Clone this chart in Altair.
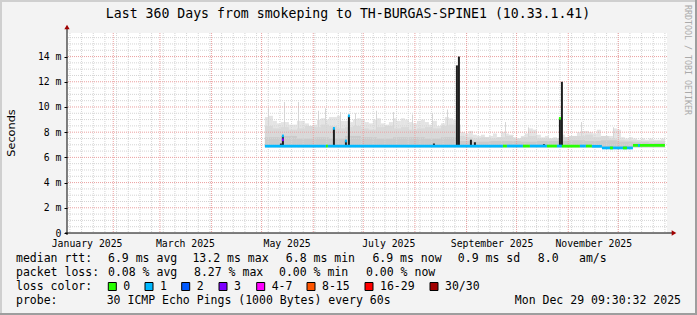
import altair as alt
import pandas as pd

# ---------------------------------------------------------------- data
title_text = "Last 360 Days from smokeping to TH-BURGAS-SPINE1 (10.33.1.41)"
y_title = "Seconds"
watermark = "RRDTOOL / TOBI OETIKER"

# time is expressed as day of 2025 (0 = 1 Jan 00:00 UTC)
view_days = [3.25, 363.25]
label_days = [15, 74, 135, 196, 258, 319]          # mid-month label anchors
month_start_days = [31, 59, 90, 120, 151, 181, 212, 243, 273, 304, 334]
week_days = list(range(5, 363, 7))                  # Mondays
y_ticks = [0, 2, 4, 6, 8, 10, 12, 14]
y_max = 15.87

# smoke (upper ping envelope) in ms, one value per 2.4 days from day 122
smoke_first_day = 122.0
smoke_step_days = 2.4
smoke_floor = 6.8
smoke_top = [9.2, 9.3, 8.9, 8.7, 8.8, 8.8, 8.6, 8.6, 8.9, 8.9,
             8.7, 8.5, 8.6, 9.0, 9.1, 9.0, 9.2, 9.2, 9.3, 8.9,
             8.9, 8.8, 9.0, 9.1, 9.0, 8.8, 8.7, 9.0, 9.1, 8.7,
             8.6, 8.8, 9.1, 8.9, 9.1, 9.0, 8.8, 8.7, 8.9, 9.0,
             8.8, 8.6, 8.9, 8.5, 8.7, 9.2, 9.1, 9.0, 8.6, 8.0,
             7.9, 8.1, 7.8, 7.7, 7.8, 7.6, 7.7, 7.9, 7.6, 8.0,
             7.9, 7.8, 7.6, 7.5, 7.7, 7.9, 8.3, 8.2, 7.8, 7.6,
             7.7, 7.5, 7.6, 7.5, 7.8, 7.6, 7.5, 7.7, 8.0, 8.1,
             8.1, 8.0, 7.9, 8.2, 7.6, 7.5, 7.7, 8.3, 8.2, 7.6,
             7.5, 7.6, 7.5, 7.4, 7.5, 7.4, 7.5, 7.4, 7.4, 7.5]
# middle band of the smoke, one value per 4.8 days
mid_step_days = 4.8
smoke_mid = [8.5, 8.3, 8.4, 8.2, 8.3, 8.5, 8.4, 8.6, 8.5, 8.3,
             8.4, 8.5, 8.3, 8.2, 8.4, 8.5, 8.3, 8.4, 8.2, 8.3,
             8.4, 8.3, 8.5, 8.6, 7.7, 7.6, 7.5, 7.6, 7.5, 7.6,
             7.7, 7.5, 7.6, 7.7, 7.5, 7.5, 7.5, 7.6, 7.7, 7.7,
             7.8, 7.6, 7.7, 7.5, 7.4, 7.35, 7.35, 7.3, 7.3, 7.3]
# densest part of the smoke, one value per 9.6 days
inner_step_days = 9.6
smoke_inner = [7.6, 7.7, 7.5, 7.6, 7.5, 7.7, 7.6, 7.5, 7.6, 7.6, 7.5, 7.6,
               7.3, 7.25, 7.3, 7.3, 7.25, 7.3, 7.3, 7.35, 7.3, 7.35, 7.25, 7.2, 7.15]
# thin single outliers
needle_day = [123.85, 133.45, 141.85, 153.85, 158.05, 167.05, 176.05, 188.65,
              198.85, 210.25, 222.25, 231.25, 266.05, 279.85, 311.65, 330.85]
needle_top = [9.9, 10.4, 10.4, 9.7, 9.9, 9.6, 9.5, 9.7,
              9.6, 9.4, 9.5, 9.8, 8.8, 8.4, 8.8, 8.4]
# dense dark spikes
spike_day = [131.0, 132.2, 162.8, 170.0, 171.8, 222.8, 236.6, 237.8, 245.0, 247.4, 288.8, 298.4, 299.6]
spike_top = [7.1, 7.7, 8.3, 7.3, 9.3, 7.1, 13.3, 14.0, 7.4, 7.2, 7.05, 9.1, 12.0]

# median rtt segments coloured by lost pings
med_from = [122.0, 158.6, 159.8, 264.8, 267.2, 276.8, 281.0, 291.2, 297.2, 300.2, 311.0, 314.6,
            318.2, 324.2, 342.8, 329.0, 336.8, 345.8, 132.2, 132.2, 162.8, 170.0, 171.8, 298.4]
med_to = [158.6, 159.8, 264.8, 267.2, 276.8, 281.0, 291.2, 297.2, 300.2, 311.0, 314.6, 318.2,
          324.2, 342.8, 362.0, 330.8, 339.2, 347.0, 133.4, 133.4, 164.0, 171.2, 173.0, 299.6]
med_value = [6.9, 6.9, 6.9, 6.9, 6.9, 6.9, 6.9, 6.9, 6.9, 6.9, 6.9, 6.9,
             6.88, 6.75, 6.95, 6.75, 6.75, 6.95, 7.7, 7.4, 8.3, 7.3, 9.3, 9.1]
med_loss = ["1", "0", "1", "0", "1", "0", "1", "0", "1", "0", "1", "0",
            "1", "1", "0", "0", "0", "1", "1", "3", "1", "1", "1", "0"]

loss_labels = ["0", "1", "2", "3", "4-7", "8-15", "16-29", "30/30"]
loss_colors = ["#26ff00", "#00b8ff", "#0059ff", "#7e00ff", "#ff00ff", "#ff5500", "#ff0000", "#a10000"]

rtt_stats = ["6.9 ms avg", "13.2 ms max", "6.8 ms min", "6.9 ms now", "0.9 ms sd", "8.0", "am/s"]
loss_stats = ["0.08 % avg", "8.27 % max", "0.00 % min", "0.00 % now"]
probe_text = "30 ICMP Echo Pings (1000 Bytes) every 60s"
stamp_text = "Mon Dec 29 09:30:32 2025"

# ---------------------------------------------------------------- layout
PW, PH = 600, 200
OX, OY = 67, 33            # plot origin inside the 697x315 canvas
MONO = "DejaVu Sans Mono"
rtt_x = [108, 192.4, 285.8, 372.4, 457.8, 537.8, 579]
loss_x = [108, 194, 279, 366]
swatch_x = [108.3, 145, 181.7, 219, 256.7, 307, 365, 430]
row_y = [258.5, 272.5, 287, 301]

BASE = pd.Timestamp("2025-01-01")


def ms(day):
    return int((BASE + pd.Timedelta(days=float(day))).timestamp() * 1000)


xscale = alt.Scale(type="utc", domain=[ms(view_days[0]), ms(view_days[1])])
yscale = alt.Scale(domain=[0, y_max], nice=False, zero=False)

xaxis = alt.Axis(values=[ms(d) for d in label_days], labelExpr="utcFormat(datum.value, '%B %Y')",
                 labelFont=MONO, labelFontSize=9.8, labelColor="#000000",
                 ticks=False, tickSize=0, domain=False, grid=False, title=None,
                 labelPadding=10.5, labelBaseline="middle", labelFlush=False,
                 labelOverlap=False, labelAlign="center")
yaxis = alt.Axis(values=y_ticks, labelExpr="datum.value == 0 ? '0\u00a0' : datum.value + ' m'",
                 labelFont=MONO, labelFontSize=9.8, labelColor="#000000",
                 ticks=True, tickSize=3, tickColor="#000000", domain=False, grid=False,
                 title=None, labelPadding=3)


def X(field):
    return alt.X(field, type="temporal", scale=xscale, axis=xaxis)


def Y(field):
    return alt.Y(field, type="quantitative", scale=yscale, axis=yaxis)


def bands(first, step, values):
    return pd.DataFrame({
        "t0": [ms(first + i * step) for i in range(len(values))],
        "t1": [ms(first + (i + 1) * step) for i in range(len(values))],
        "lo": [smoke_floor] * len(values),
        "hi": values,
    })


layers = []

# smoke
layers.append(alt.Chart(bands(smoke_first_day, smoke_step_days, smoke_top)).mark_rect(color="#e4e4e4").encode(
    x=X("t0"), x2="t1", y=Y("lo"), y2="hi"))
needle_df = pd.DataFrame({"t0": [ms(d) for d in needle_day], "t1": [ms(d + 0.6) for d in needle_day],
                          "lo": [smoke_floor] * len(needle_day), "hi": needle_top})
layers.append(alt.Chart(needle_df).mark_rect(color="#d6d6d6").encode(
    x=X("t0"), x2="t1", y=Y("lo"), y2="hi"))
layers.append(alt.Chart(bands(smoke_first_day, mid_step_days, smoke_mid)).mark_rect(color="#d9d9d9").encode(
    x=X("t0"), x2="t1", y=Y("lo"), y2="hi"))
layers.append(alt.Chart(bands(smoke_first_day, inner_step_days, smoke_inner)).mark_rect(color="#cbcbcb").encode(
    x=X("t0"), x2="t1", y=Y("lo"), y2="hi"))

# grid
minor_y = [0.5 * k for k in range(1, 32) if k % 4 != 0]
layers.append(alt.Chart(pd.DataFrame({"t": [ms(d) for d in week_days]})).mark_rule(
    color="#d4d4d4", strokeDash=[1, 1], strokeWidth=1).encode(x=X("t")))
layers.append(alt.Chart(pd.DataFrame({"v": minor_y})).mark_rule(
    color="#d4d4d4", strokeDash=[1, 1], strokeWidth=1).encode(y=Y("v")))
layers.append(alt.Chart(pd.DataFrame({"t": [ms(d) for d in month_start_days]})).mark_rule(
    color="#eba0a0", strokeDash=[1, 1], strokeWidth=1).encode(x=X("t")))
layers.append(alt.Chart(pd.DataFrame({"v": [v for v in y_ticks if v > 0]})).mark_rule(
    color="#eba0a0", strokeDash=[1, 1], strokeWidth=1).encode(y=Y("v")))

# dark spikes
spike_df = pd.DataFrame({"t0": [ms(d) for d in spike_day], "t1": [ms(d + 1.2) for d in spike_day],
                         "lo": [6.85] * len(spike_day), "hi": spike_top})
layers.append(alt.Chart(spike_df).mark_rect(color="#1e1e1e").encode(
    x=X("t0"), x2="t1", y=Y("lo"), y2="hi"))

# median
med_df = pd.DataFrame({"t0": [ms(d) for d in med_from], "t1": [ms(d) for d in med_to],
                       "v": med_value, "loss": med_loss})
med_df["lo"] = med_df["v"] - 0.11
med_df["hi"] = med_df["v"] + 0.11
med_df["order"] = range(len(med_df))
layers.append(alt.Chart(med_df).mark_rect().encode(
    x=X("t0"), x2="t1", y=Y("lo"), y2="hi",
    color=alt.Color("loss:N", scale=alt.Scale(domain=loss_labels, range=loss_colors), legend=None),
    order=alt.Order("order:Q")))

ONE = alt.Data(values=[{"t": ""}])

# axis lines and arrows
layers.append(alt.Chart(ONE).mark_rule(color="#000000").encode(
    x=alt.value(0), y=alt.value(-4), y2=alt.value(PH + 2)))
layers.append(alt.Chart(ONE).mark_rule(color="#000000").encode(
    x=alt.value(-2), x2=alt.value(PW + 5), y=alt.value(PH)))
layers.append(alt.Chart(ONE).mark_point(shape="triangle-up", filled=True, size=28, color="#a00000",
                                        opacity=1).encode(x=alt.value(0), y=alt.value(-6)))
layers.append(alt.Chart(ONE).mark_point(shape="triangle-right", filled=True, size=28, color="#a00000",
                                        opacity=1).encode(x=alt.value(PW + 7), y=alt.value(PH)))


def txt(s, ax, ay, size=11.5, font=MONO, color="#000000", align="left", angle=0, baseline="middle"):
    return alt.Chart(alt.Data(values=[{"t": s}])).mark_text(
        font=font, fontSize=size, color=color, align=align, baseline=baseline, angle=angle
    ).encode(text="t:N", x=alt.value(ax - OX), y=alt.value(ay - OY))


def box(x0, x1, y0, y1, fill, stroke=None):
    kw = {"fill": fill, "opacity": 1}
    if stroke:
        kw.update(stroke=stroke, strokeWidth=1)
    return alt.Chart(ONE).mark_rect(**kw).encode(
        x=alt.value(x0 - OX), x2=alt.value(x1 - OX), y=alt.value(y0 - OY), y2=alt.value(y1 - OY))


# titles
layers.append(txt(title_text, 348, 13.5, size=13.2, align="center"))
layers.append(txt(y_title, 11.5, 133, size=11.3, font="DejaVu Sans", align="center", angle=270))
layers.append(txt(watermark, 687, 5, size=8.3, color="#aaaaaa", align="left", angle=90))

# legend
layers.append(txt("median rtt:", 16, row_y[0]))
for s, px in zip(rtt_stats, rtt_x):
    layers.append(txt(s, px, row_y[0]))
layers.append(txt("packet loss:", 16, row_y[1]))
for s, px in zip(loss_stats, loss_x):
    layers.append(txt(s, px, row_y[1]))
layers.append(txt("loss color:", 16, row_y[2]))
for lab, col, px in zip(loss_labels, loss_colors, swatch_x):
    layers.append(box(px, px + 8, row_y[2] - 4.5, row_y[2] + 3.5, col, stroke="#000000"))
    layers.append(txt(lab, px + 15, row_y[2]))
layers.append(txt("probe:", 16, row_y[3]))
layers.append(txt(probe_text, 106.7, row_y[3]))
layers.append(txt(stamp_text, 681, row_y[3], align="right"))

# 3D frame of the image
layers.append(box(0, 697, 0, 2, "#cfcfcf"))
layers.append(box(0, 2, 0, 315, "#cfcfcf"))
layers.append(box(0, 697, 313, 315, "#9e9e9e"))
layers.append(box(695, 697, 0, 315, "#9e9e9e"))

chart = alt.layer(*layers).properties(
    width=PW, height=PH,
    autosize=alt.AutoSizeParams(type="none"),
    padding={"left": OX, "top": OY, "right": 697 - OX - PW, "bottom": 315 - OY - PH},
).configure(background="#f3f3f3").configure_view(stroke=None, fill="#ffffff")

chart.save("out.html", embed_options={"renderer": "svg", "actions": False})
